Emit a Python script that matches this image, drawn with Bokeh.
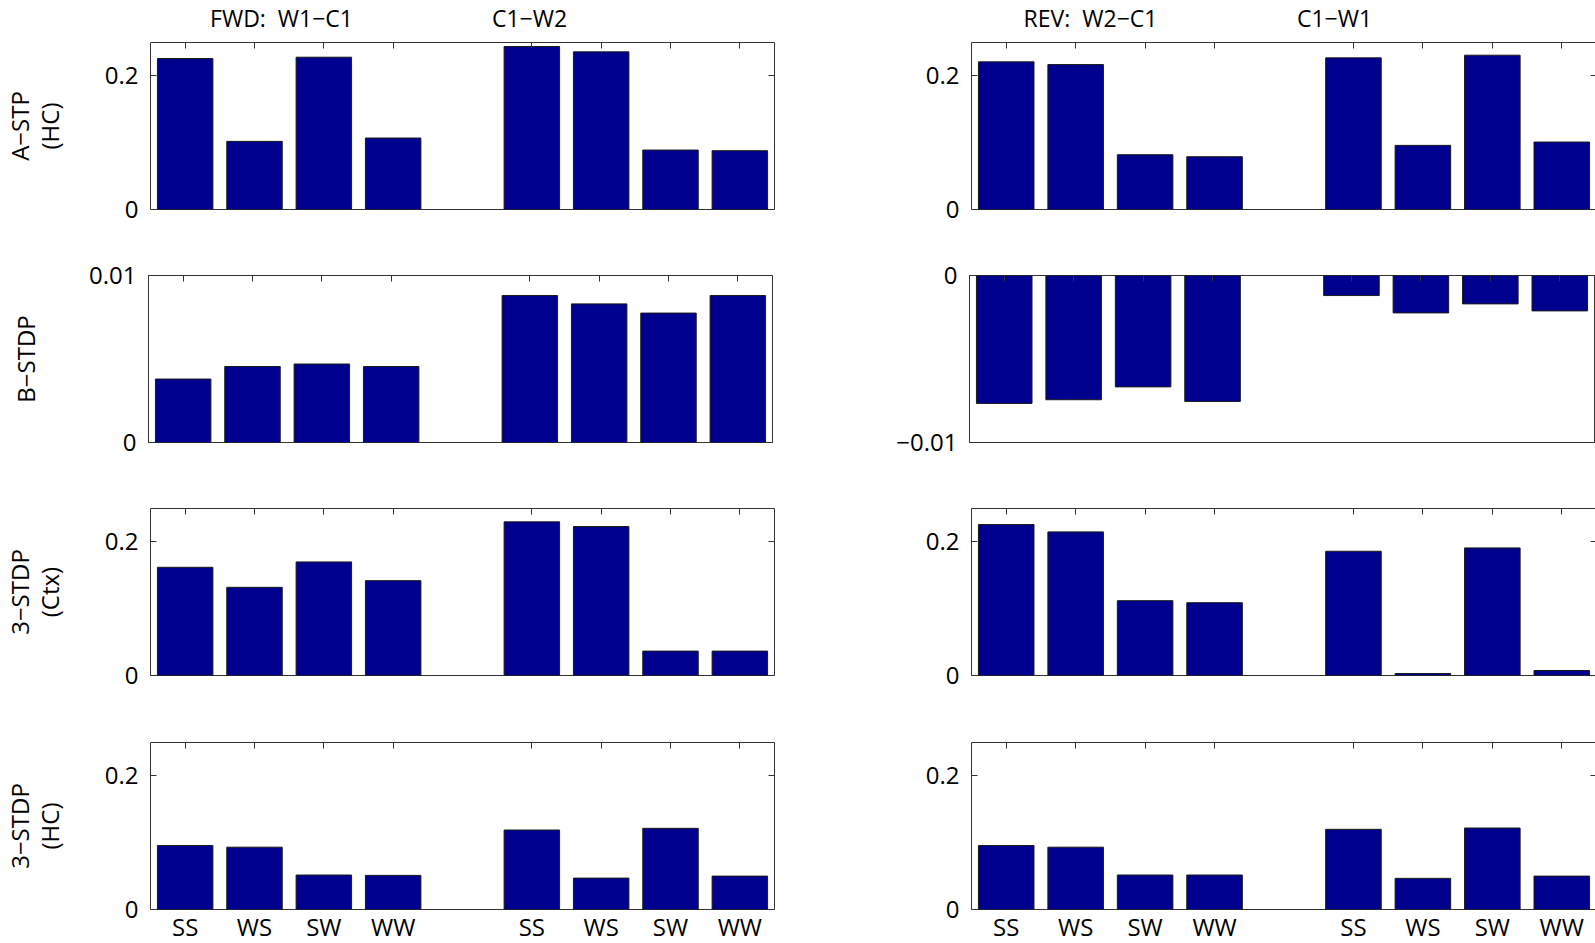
from bokeh.plotting import figure
from bokeh.layouts import column, row
from bokeh.models import Range1d, FixedTicker, LinearAxis
from bokeh.core.properties import value
from bokeh.embed import file_html
from bokeh.resources import INLINE

# ---------------- data ----------------
positions = [1, 2, 3, 4, 6, 7, 8, 9]
pair_labels = ["SS", "WS", "SW", "WW", "SS", "WS", "SW", "WW"]
row_labels = ["A\u2212STP\n(HC)", "B\u2212STDP", "3\u2212STDP\n(Ctx)", "3\u2212STDP\n(HC)"]
title_texts = ["FWD:\u00a0\u00a0W1\u2212C1", "C1\u2212W2", "REV:\u00a0\u00a0W2\u2212C1", "C1\u2212W1"]

fwd_astp_hc = [0.226, 0.102, 0.228, 0.107, 0.244, 0.236, 0.089, 0.088]
rev_astp_hc = [0.221, 0.217, 0.082, 0.079, 0.227, 0.096, 0.231, 0.101]
fwd_bstdp = [0.0038, 0.00455, 0.0047, 0.00455, 0.0088, 0.0083, 0.00775, 0.0088]
rev_bstdp = [-0.00766, -0.00744, -0.00667, -0.00754, -0.0012, -0.00224, -0.0017, -0.00212]
fwd_3stdp_ctx = [0.162, 0.132, 0.170, 0.142, 0.230, 0.223, 0.0365, 0.0365]
rev_3stdp_ctx = [0.226, 0.215, 0.112, 0.109, 0.186, 0.003, 0.191, 0.0075]
fwd_3stdp_hc = [0.0958, 0.0933, 0.0516, 0.0511, 0.119, 0.047, 0.1215, 0.050]
rev_3stdp_hc = [0.0958, 0.0933, 0.0516, 0.0516, 0.120, 0.0466, 0.122, 0.050]

y_ranges_left = [(0, 0.25), (0, 0.01), (0, 0.25), (0, 0.25)]
y_ranges_right = [(0, 0.25), (-0.01, 0), (0, 0.25), (0, 0.25)]
y_ticks_left = [[0, 0.2], [0, 0.01], [0, 0.2], [0, 0.2]]
y_ticks_right = [[0, 0.2], [-0.01, 0], [0, 0.2], [0, 0.2]]
tick_text = {0: "0", 0.2: "0.2", 0.01: "0.01", -0.01: "\u22120.01"}

left_series = [fwd_astp_hc, fwd_bstdp, fwd_3stdp_ctx, fwd_3stdp_hc]
right_series = [rev_astp_hc, rev_bstdp, rev_3stdp_ctx, rev_3stdp_hc]

# ---------------- style / layout ----------------
FONT = "Open Sans"
FS = "24px"
BAR = "#00008F"
EDGE = "#1a1a1a"
FRAME = "#333333"
ROW_TOP_BORDERS = [0, 33, 33, 34]
ROW_BOTTOM_BORDERS = [33, 33, 33, 34]


def hidden_axis_labels(ax):
    ax.major_label_text_font_size = "0px"
    ax.major_label_standoff = 0
    ax.axis_line_color = None
    ax.minor_tick_line_color = None
    ax.major_tick_in = 6
    ax.major_tick_out = 0
    ax.major_tick_line_color = FRAME


def make_panel(r, is_left):
    vals = left_series[r] if is_left else right_series[r]
    yr = y_ranges_left[r] if is_left else y_ranges_right[r]
    yt = y_ticks_left[r] if is_left else y_ticks_right[r]
    bottom_row = r == 3
    p = figure(
        frame_width=624 if is_left else 625,
        frame_height=167,
        x_range=Range1d(0.5, 9.5),
        y_range=Range1d(*yr),
        output_backend="svg",
        toolbar_location=None,
        title_location=None,
        min_border_left=148 if is_left else 177,
        min_border_right=20 if is_left else 1,
        min_border_top=ROW_TOP_BORDERS[r],
        min_border_bottom=ROW_BOTTOM_BORDERS[r],
    )
    p.grid.visible = False
    p.outline_line_color = FRAME
    p.outline_line_width = 1
    p.background_fill_color = "white"
    p.border_fill_color = "white"

    p.vbar(x=positions, top=vals, bottom=0, width=0.8,
           fill_color=BAR, line_color=EDGE, line_width=1)

    # bottom axis
    xa = p.xaxis[0]
    xa.ticker = FixedTicker(ticks=positions)
    if bottom_row:
        xa.major_label_overrides = {pos: lab for pos, lab in zip(positions, pair_labels)}
        xa.major_label_text_font = FONT
        xa.major_label_text_font_size = FS
        xa.major_label_text_color = "black"
        xa.major_label_standoff = -6
        xa.axis_line_color = None
        xa.major_tick_line_color = None
        xa.minor_tick_line_color = None
    else:
        xa.visible = False

    # top axis (ticks only)
    top = LinearAxis(ticker=FixedTicker(ticks=positions))
    top.major_label_overrides = {pos: "" for pos in positions}
    hidden_axis_labels(top)
    p.add_layout(top, "above")

    # left axis
    ya = p.yaxis[0]
    ya.ticker = FixedTicker(ticks=yt)
    ya.major_label_overrides = {t: tick_text[t] for t in yt}
    ya.major_label_text_font = FONT
    ya.major_label_text_font_size = FS
    ya.major_label_text_color = "black"
    ya.major_label_standoff = 12
    ya.axis_line_color = None
    ya.minor_tick_line_color = None
    ya.major_tick_in = 6
    ya.major_tick_out = 0
    ya.major_tick_line_color = FRAME
    if is_left:
        two_lines = "\n" in row_labels[r]
        ya.axis_label = row_labels[r]
        ya.axis_label_text_font = FONT
        ya.axis_label_text_font_size = FS
        ya.axis_label_text_font_style = "normal"
        ya.axis_label_text_color = "black"
        ya.axis_label_text_line_height = 0.9
        ya.axis_label_standoff = 36 if two_lines else 44

    # right axis (ticks only)
    ra = LinearAxis(ticker=FixedTicker(ticks=yt))
    ra.major_label_overrides = {t: "" for t in yt}
    hidden_axis_labels(ra)
    p.add_layout(ra, "right")
    return p


# header with the group titles
header = figure(width=1595, height=42, x_range=Range1d(0, 1595), y_range=Range1d(42, 0),
                x_axis_type=None, y_axis_type=None, output_backend="svg",
                toolbar_location=None, title_location=None, min_border=0)
header.outline_line_color = None
header.grid.visible = False
header.text(x=[281, 529, 1090, 1334], y=[17, 17, 17, 17], text=title_texts,
            text_font=value(FONT), text_font_size="23px", text_color="black",
            text_align="center", text_baseline="middle")

rows = [row(make_panel(r, True), make_panel(r, False)) for r in range(4)]
layout = column(header, *rows)

open("out.html", "w").write(file_html(layout, INLINE))
